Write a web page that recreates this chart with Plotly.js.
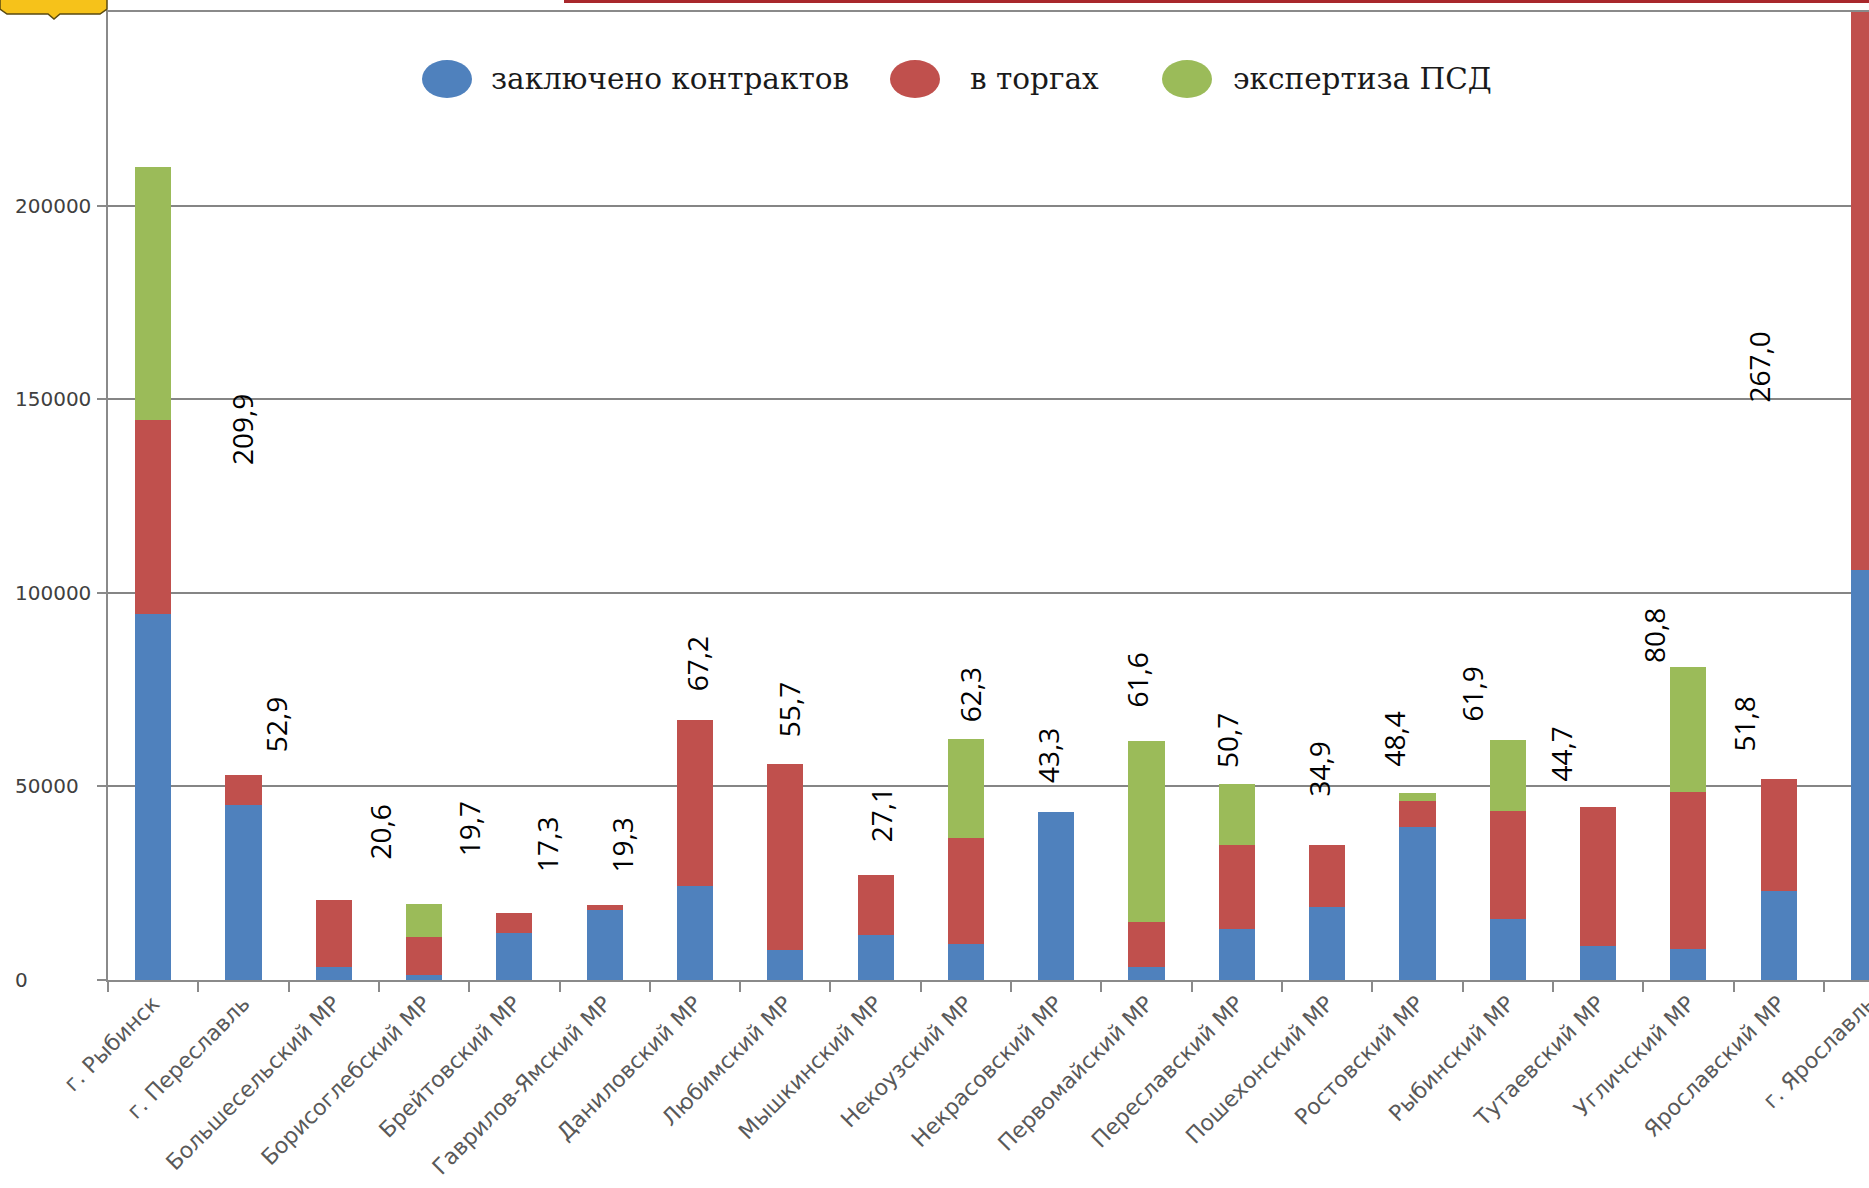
<!DOCTYPE html>
<html><head><meta charset="utf-8">
<script src="https://cdn.plot.ly/plotly-3.0.1.min.js"></script>
<style>html,body{margin:0;padding:0;background:#fff;overflow:hidden}#chart{width:1869px;height:1188px}</style>
</head><body><div id="chart"></div>
<script>
// ---- data ----
const categories = ["г. Рыбинск","г. Переславль","Большесельский МР","Борисоглебский МР","Брейтовский МР","Гаврилов-Ямский МР","Даниловский МР","Любимский МР","Мышкинский МР","Некоузский МР","Некрасовский МР","Первомайский МР","Переславский МР","Пошехонский МР","Ростовский МР","Рыбинский МР","Тутаевский МР","Угличский МР","Ярославский МР","г. Ярославль"];
const seriesNames = ["заключено контрактов","в торгах","экспертиза ПСД"];
const contracts = [94500,45200,3400,1300,12100,18000,24300,7700,11700,9200,43300,3400,13200,18800,39400,15700,8900,8000,23000,106000];
const tenders   = [50100,7700,17200,9900,5200,1300,42900,48000,15400,27400,0,11700,21600,16100,6800,28000,35800,40600,28800,161000];
const expertise = [65300,0,0,8500,0,0,0,0,0,25700,0,46500,15900,0,2200,18200,0,32200,0,0];
const totalLabels = ["209,9","52,9","20,6","19,7","17,3","19,3","67,2","55,7","27,1","62,3","43,3","61,6","50,7","34,9","48,4","61,9","44,7","80,8","51,8","267,0"];
const yTickValues = [0,50000,100000,150000,200000];

// ---- styling / layout ----
const colors = ["#4F81BD","#C0504D","#9BBB59"];
const W=1869,H=1188,L=108,T=12,B=208,R=0;
const plotW=W-L-R, plotH=H-T-B;
const Y_MAX=250000;
const px2x = p => (p-L)/plotW;
const py2y = p => (H-B-p)/plotH;
// label offsets in pixels (placement of text boxes relative to the bar tops)
const labelDx = [89,32,46,45,32,17,2,4,5,4,-8,-10,-10,-8,-23,-36,-37,-35,-35,-111];
const labelDy = [-300,21,39,45,39,31,26,25,31,15,27,32,14,46,24,17,23,2,26,-393];

const series=[contracts,tenders,expertise];
const traces = series.map((vals,k)=>({
  type:'bar', x:categories, y:vals, name:seriesNames[k],
  marker:{color:colors[k], line:{width:0}}, showlegend:false, hoverinfo:'skip'
}));

const annotations=[];
categories.forEach((c,i)=>{
  const tot = contracts[i]+tenders[i]+expertise[i];
  annotations.push({x:c, y:Math.min(tot,Y_MAX), xref:'x', yref:'y', text:totalLabels[i],
    textangle:-90, showarrow:false, xanchor:'center', yanchor:'bottom',
    xshift:labelDx[i], yshift:labelDy[i],
    font:{family:'Open Sans', size:28, color:'#000'}});
});
yTickValues.forEach(v=>{
  annotations.push({xref:'paper', x:0, xshift:-95, xanchor:'left', yref:'y', y:v,
    text:String(v), showarrow:false, font:{family:'DejaVu Sans', size:20, color:'#404040'}});
});

// legend (drawn manually: big ellipse markers)
const legendCx=[447,915,1187], legendTx=[489,968,1231], legendCy=79, rx=25, ry=19;
const shapes=[];
seriesNames.forEach((n,k)=>{
  shapes.push({type:'circle', xref:'paper', yref:'paper',
    x0:px2x(legendCx[k]-rx), x1:px2x(legendCx[k]+rx), y0:py2y(legendCy+ry), y1:py2y(legendCy-ry),
    fillcolor:colors[k], line:{width:0}, layer:'above'});
  annotations.push({xref:'paper', yref:'paper', x:px2x(legendTx[k]), y:py2y(legendCy),
    xanchor:'left', yanchor:'middle', text:n, showarrow:false,
    font:{family:'DejaVu Serif', size:29.5, color:'#1a1a1a'}});
});
// slide decorations: emblem fragment and red strip at top
const logoPts=[[0,-2],[107,-2],[107,9],[100,14],[60,14],[54,19],[48,14],[7,14],[0,9]];
shapes.push({type:'path', xref:'paper', yref:'paper', layer:'above',
  path:'M '+logoPts.map(p=>px2x(p[0])+','+py2y(p[1])).join(' L ')+' Z',
  fillcolor:'#F6C21A', line:{color:'#5a4a10', width:1.5}});
shapes.push({type:'rect', xref:'paper', yref:'paper', layer:'above',
  x0:px2x(564), x1:px2x(1875), y0:py2y(3), y1:py2y(-2), fillcolor:'#A8282C', line:{width:0}});

const layout={
  width:W, height:H, margin:{l:L,r:R,t:T,b:B}, paper_bgcolor:'#fff', plot_bgcolor:'#fff',
  barmode:'stack', bargap:0.6, showlegend:false,
  xaxis:{type:'category', range:[-0.5,19], showgrid:false, showline:true, linecolor:'#8a8a8a', linewidth:2,
    mirror:true, ticks:'outside', tickson:'boundaries', ticklen:10, tickcolor:'#8a8a8a', tickwidth:2,
    tickangle:-45, tickfont:{family:'DejaVu Sans', size:22, color:'#595959'}, fixedrange:true},
  yaxis:{range:[0,Y_MAX], tickvals:yTickValues, showticklabels:false, showgrid:true, gridcolor:'#858585', gridwidth:2,
    showline:true, linecolor:'#8a8a8a', linewidth:2, ticks:'outside', ticklen:9, tickcolor:'#8a8a8a', tickwidth:2,
    zeroline:false, fixedrange:true},
  annotations:annotations, shapes:shapes
};
Plotly.newPlot('chart', traces, layout, {displayModeBar:false, staticPlot:true});
</script></body></html>
